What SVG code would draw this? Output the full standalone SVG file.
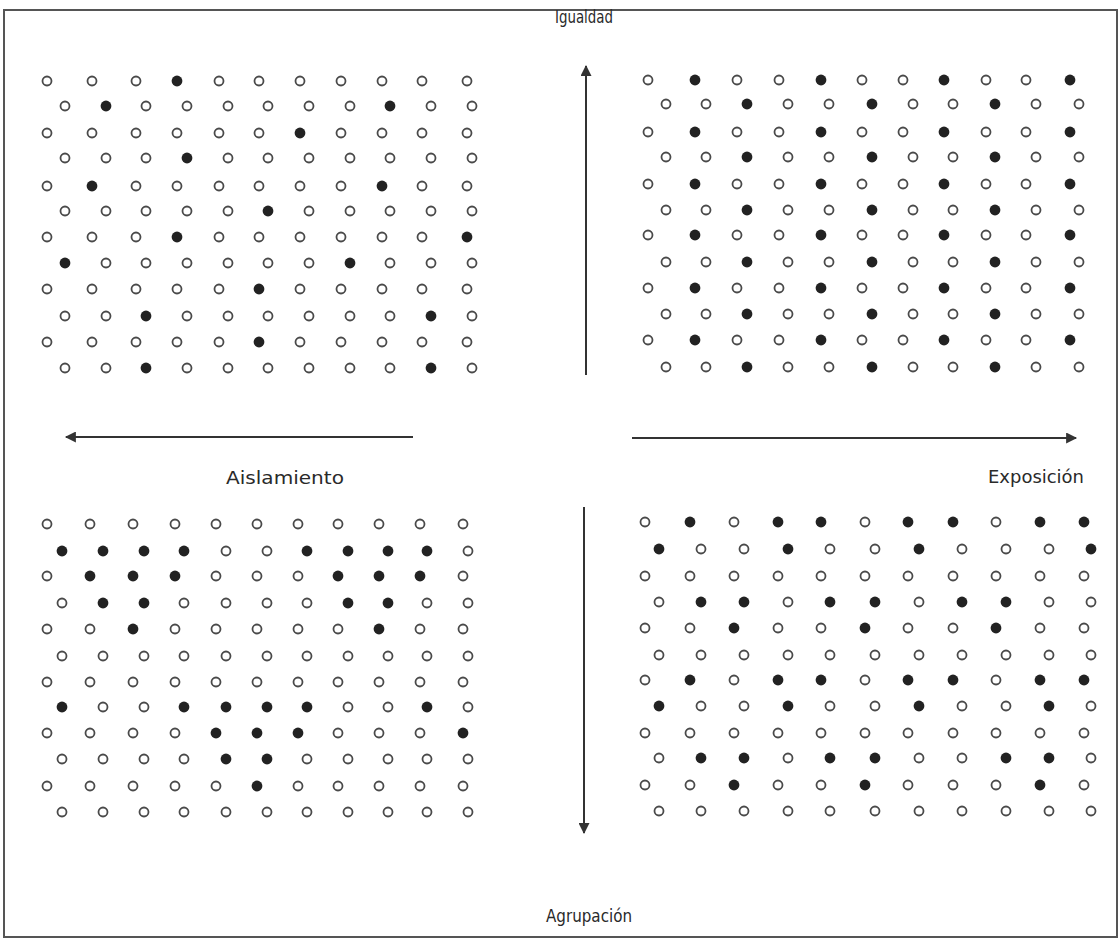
<svg xmlns="http://www.w3.org/2000/svg" xmlns:xlink="http://www.w3.org/1999/xlink" width="1120" height="939" viewBox="0 0 1120 939">
<style>
.lbl{font-family:"DejaVu Sans Condensed","Liberation Sans Narrow","Liberation Sans",sans-serif;font-size:18px;fill:#2a2a2a;}
.ax{stroke:#333;stroke-width:2;fill:none;}
.frame{fill:none;stroke:#555;stroke-width:2;}
</style>
<defs>
<circle id="o" r="4.5" fill="none" stroke="#4a4a4a" stroke-width="1.8"/>
<circle id="f" r="5.4" fill="#222"/>
<marker id="ah" viewBox="0 0 10 10" refX="9" refY="5" markerWidth="6" markerHeight="5.5" markerUnits="strokeWidth" orient="auto">
<path d="M0,0 L10,5 L0,10 z" fill="#333"/>
</marker>
</defs>
<rect class="frame" x="4" y="10" width="1113" height="927"/>

<g id="quadrant-igualdad-aislamiento">
<g transform="translate(0,81)"><use href="#o" x="47"/><use href="#o" x="92"/><use href="#o" x="136"/><use href="#f" x="177"/><use href="#o" x="219"/><use href="#o" x="259"/><use href="#o" x="300"/><use href="#o" x="341"/><use href="#o" x="382"/><use href="#o" x="422"/><use href="#o" x="467"/></g>
<g transform="translate(0,106)"><use href="#o" x="65"/><use href="#f" x="106"/><use href="#o" x="146"/><use href="#o" x="187"/><use href="#o" x="228"/><use href="#o" x="268"/><use href="#o" x="309"/><use href="#o" x="350"/><use href="#f" x="390"/><use href="#o" x="431"/><use href="#o" x="472"/></g>
<g transform="translate(0,133)"><use href="#o" x="47"/><use href="#o" x="92"/><use href="#o" x="136"/><use href="#o" x="177"/><use href="#o" x="219"/><use href="#o" x="259"/><use href="#f" x="300"/><use href="#o" x="341"/><use href="#o" x="382"/><use href="#o" x="422"/><use href="#o" x="467"/></g>
<g transform="translate(0,158)"><use href="#o" x="65"/><use href="#o" x="106"/><use href="#o" x="146"/><use href="#f" x="187"/><use href="#o" x="228"/><use href="#o" x="268"/><use href="#o" x="309"/><use href="#o" x="350"/><use href="#o" x="390"/><use href="#o" x="431"/><use href="#o" x="472"/></g>
<g transform="translate(0,186)"><use href="#o" x="47"/><use href="#f" x="92"/><use href="#o" x="136"/><use href="#o" x="177"/><use href="#o" x="219"/><use href="#o" x="259"/><use href="#o" x="300"/><use href="#o" x="341"/><use href="#f" x="382"/><use href="#o" x="422"/><use href="#o" x="467"/></g>
<g transform="translate(0,211)"><use href="#o" x="65"/><use href="#o" x="106"/><use href="#o" x="146"/><use href="#o" x="187"/><use href="#o" x="228"/><use href="#f" x="268"/><use href="#o" x="309"/><use href="#o" x="350"/><use href="#o" x="390"/><use href="#o" x="431"/><use href="#o" x="472"/></g>
<g transform="translate(0,237)"><use href="#o" x="47"/><use href="#o" x="92"/><use href="#o" x="136"/><use href="#f" x="177"/><use href="#o" x="219"/><use href="#o" x="259"/><use href="#o" x="300"/><use href="#o" x="341"/><use href="#o" x="382"/><use href="#o" x="422"/><use href="#f" x="467"/></g>
<g transform="translate(0,263)"><use href="#f" x="65"/><use href="#o" x="106"/><use href="#o" x="146"/><use href="#o" x="187"/><use href="#o" x="228"/><use href="#o" x="268"/><use href="#o" x="309"/><use href="#f" x="350"/><use href="#o" x="390"/><use href="#o" x="431"/><use href="#o" x="472"/></g>
<g transform="translate(0,289)"><use href="#o" x="47"/><use href="#o" x="92"/><use href="#o" x="136"/><use href="#o" x="177"/><use href="#o" x="219"/><use href="#f" x="259"/><use href="#o" x="300"/><use href="#o" x="341"/><use href="#o" x="382"/><use href="#o" x="422"/><use href="#o" x="467"/></g>
<g transform="translate(0,316)"><use href="#o" x="65"/><use href="#o" x="106"/><use href="#f" x="146"/><use href="#o" x="187"/><use href="#o" x="228"/><use href="#o" x="268"/><use href="#o" x="309"/><use href="#o" x="350"/><use href="#o" x="390"/><use href="#f" x="431"/><use href="#o" x="472"/></g>
<g transform="translate(0,342)"><use href="#o" x="47"/><use href="#o" x="92"/><use href="#o" x="136"/><use href="#o" x="177"/><use href="#o" x="219"/><use href="#f" x="259"/><use href="#o" x="300"/><use href="#o" x="341"/><use href="#o" x="382"/><use href="#o" x="422"/><use href="#o" x="467"/></g>
<g transform="translate(0,368)"><use href="#o" x="65"/><use href="#o" x="106"/><use href="#f" x="146"/><use href="#o" x="187"/><use href="#o" x="228"/><use href="#o" x="268"/><use href="#o" x="309"/><use href="#o" x="350"/><use href="#o" x="390"/><use href="#f" x="431"/><use href="#o" x="472"/></g>
</g>

<g id="quadrant-igualdad-exposicion">
<g transform="translate(0,80)"><use href="#o" x="648"/><use href="#f" x="695"/><use href="#o" x="737"/><use href="#o" x="779"/><use href="#f" x="821"/><use href="#o" x="862"/><use href="#o" x="903"/><use href="#f" x="944"/><use href="#o" x="986"/><use href="#o" x="1026"/><use href="#f" x="1070"/></g>
<g transform="translate(0,104)"><use href="#o" x="666"/><use href="#o" x="706"/><use href="#f" x="747"/><use href="#o" x="788"/><use href="#o" x="829"/><use href="#f" x="872"/><use href="#o" x="913"/><use href="#o" x="953"/><use href="#f" x="995"/><use href="#o" x="1036"/><use href="#o" x="1079"/></g>
<g transform="translate(0,132)"><use href="#o" x="648"/><use href="#f" x="695"/><use href="#o" x="737"/><use href="#o" x="779"/><use href="#f" x="821"/><use href="#o" x="862"/><use href="#o" x="903"/><use href="#f" x="944"/><use href="#o" x="986"/><use href="#o" x="1026"/><use href="#f" x="1070"/></g>
<g transform="translate(0,157)"><use href="#o" x="666"/><use href="#o" x="706"/><use href="#f" x="747"/><use href="#o" x="788"/><use href="#o" x="829"/><use href="#f" x="872"/><use href="#o" x="913"/><use href="#o" x="953"/><use href="#f" x="995"/><use href="#o" x="1036"/><use href="#o" x="1079"/></g>
<g transform="translate(0,184)"><use href="#o" x="648"/><use href="#f" x="695"/><use href="#o" x="737"/><use href="#o" x="779"/><use href="#f" x="821"/><use href="#o" x="862"/><use href="#o" x="903"/><use href="#f" x="944"/><use href="#o" x="986"/><use href="#o" x="1026"/><use href="#f" x="1070"/></g>
<g transform="translate(0,210)"><use href="#o" x="666"/><use href="#o" x="706"/><use href="#f" x="747"/><use href="#o" x="788"/><use href="#o" x="829"/><use href="#f" x="872"/><use href="#o" x="913"/><use href="#o" x="953"/><use href="#f" x="995"/><use href="#o" x="1036"/><use href="#o" x="1079"/></g>
<g transform="translate(0,235)"><use href="#o" x="648"/><use href="#f" x="695"/><use href="#o" x="737"/><use href="#o" x="779"/><use href="#f" x="821"/><use href="#o" x="862"/><use href="#o" x="903"/><use href="#f" x="944"/><use href="#o" x="986"/><use href="#o" x="1026"/><use href="#f" x="1070"/></g>
<g transform="translate(0,262)"><use href="#o" x="666"/><use href="#o" x="706"/><use href="#f" x="747"/><use href="#o" x="788"/><use href="#o" x="829"/><use href="#f" x="872"/><use href="#o" x="913"/><use href="#o" x="953"/><use href="#f" x="995"/><use href="#o" x="1036"/><use href="#o" x="1079"/></g>
<g transform="translate(0,288)"><use href="#o" x="648"/><use href="#f" x="695"/><use href="#o" x="737"/><use href="#o" x="779"/><use href="#f" x="821"/><use href="#o" x="862"/><use href="#o" x="903"/><use href="#f" x="944"/><use href="#o" x="986"/><use href="#o" x="1026"/><use href="#f" x="1070"/></g>
<g transform="translate(0,314)"><use href="#o" x="666"/><use href="#o" x="706"/><use href="#f" x="747"/><use href="#o" x="788"/><use href="#o" x="829"/><use href="#f" x="872"/><use href="#o" x="913"/><use href="#o" x="953"/><use href="#f" x="995"/><use href="#o" x="1036"/><use href="#o" x="1079"/></g>
<g transform="translate(0,340)"><use href="#o" x="648"/><use href="#f" x="695"/><use href="#o" x="737"/><use href="#o" x="779"/><use href="#f" x="821"/><use href="#o" x="862"/><use href="#o" x="903"/><use href="#f" x="944"/><use href="#o" x="986"/><use href="#o" x="1026"/><use href="#f" x="1070"/></g>
<g transform="translate(0,367)"><use href="#o" x="666"/><use href="#o" x="706"/><use href="#f" x="747"/><use href="#o" x="788"/><use href="#o" x="829"/><use href="#f" x="872"/><use href="#o" x="913"/><use href="#o" x="953"/><use href="#f" x="995"/><use href="#o" x="1036"/><use href="#o" x="1079"/></g>
</g>

<g id="quadrant-agrupacion-aislamiento">
<g transform="translate(0,524)"><use href="#o" x="47"/><use href="#o" x="90"/><use href="#o" x="133"/><use href="#o" x="175"/><use href="#o" x="216"/><use href="#o" x="257"/><use href="#o" x="298"/><use href="#o" x="338"/><use href="#o" x="379"/><use href="#o" x="420"/><use href="#o" x="463"/></g>
<g transform="translate(0,551)"><use href="#f" x="62"/><use href="#f" x="103"/><use href="#f" x="144"/><use href="#f" x="184"/><use href="#o" x="226"/><use href="#o" x="267"/><use href="#f" x="307"/><use href="#f" x="348"/><use href="#f" x="388"/><use href="#f" x="427"/><use href="#o" x="468"/></g>
<g transform="translate(0,576)"><use href="#o" x="47"/><use href="#f" x="90"/><use href="#f" x="133"/><use href="#f" x="175"/><use href="#o" x="216"/><use href="#o" x="257"/><use href="#o" x="298"/><use href="#f" x="338"/><use href="#f" x="379"/><use href="#f" x="420"/><use href="#o" x="463"/></g>
<g transform="translate(0,603)"><use href="#o" x="62"/><use href="#f" x="103"/><use href="#f" x="144"/><use href="#o" x="184"/><use href="#o" x="226"/><use href="#o" x="267"/><use href="#o" x="307"/><use href="#f" x="348"/><use href="#f" x="388"/><use href="#o" x="427"/><use href="#o" x="468"/></g>
<g transform="translate(0,629)"><use href="#o" x="47"/><use href="#o" x="90"/><use href="#f" x="133"/><use href="#o" x="175"/><use href="#o" x="216"/><use href="#o" x="257"/><use href="#o" x="298"/><use href="#o" x="338"/><use href="#f" x="379"/><use href="#o" x="420"/><use href="#o" x="463"/></g>
<g transform="translate(0,656)"><use href="#o" x="62"/><use href="#o" x="103"/><use href="#o" x="144"/><use href="#o" x="184"/><use href="#o" x="226"/><use href="#o" x="267"/><use href="#o" x="307"/><use href="#o" x="348"/><use href="#o" x="388"/><use href="#o" x="427"/><use href="#o" x="468"/></g>
<g transform="translate(0,682)"><use href="#o" x="47"/><use href="#o" x="90"/><use href="#o" x="133"/><use href="#o" x="175"/><use href="#o" x="216"/><use href="#o" x="257"/><use href="#o" x="298"/><use href="#o" x="338"/><use href="#o" x="379"/><use href="#o" x="420"/><use href="#o" x="463"/></g>
<g transform="translate(0,707)"><use href="#f" x="62"/><use href="#o" x="103"/><use href="#o" x="144"/><use href="#f" x="184"/><use href="#f" x="226"/><use href="#f" x="267"/><use href="#f" x="307"/><use href="#o" x="348"/><use href="#o" x="388"/><use href="#f" x="427"/><use href="#o" x="468"/></g>
<g transform="translate(0,733)"><use href="#o" x="47"/><use href="#o" x="90"/><use href="#o" x="133"/><use href="#o" x="175"/><use href="#f" x="216"/><use href="#f" x="257"/><use href="#f" x="298"/><use href="#o" x="338"/><use href="#o" x="379"/><use href="#o" x="420"/><use href="#f" x="463"/></g>
<g transform="translate(0,759)"><use href="#o" x="62"/><use href="#o" x="103"/><use href="#o" x="144"/><use href="#o" x="184"/><use href="#f" x="226"/><use href="#f" x="267"/><use href="#o" x="307"/><use href="#o" x="348"/><use href="#o" x="388"/><use href="#o" x="427"/><use href="#o" x="468"/></g>
<g transform="translate(0,786)"><use href="#o" x="47"/><use href="#o" x="90"/><use href="#o" x="133"/><use href="#o" x="175"/><use href="#o" x="216"/><use href="#f" x="257"/><use href="#o" x="298"/><use href="#o" x="338"/><use href="#o" x="379"/><use href="#o" x="420"/><use href="#o" x="463"/></g>
<g transform="translate(0,812)"><use href="#o" x="62"/><use href="#o" x="103"/><use href="#o" x="144"/><use href="#o" x="184"/><use href="#o" x="226"/><use href="#o" x="267"/><use href="#o" x="307"/><use href="#o" x="348"/><use href="#o" x="388"/><use href="#o" x="427"/><use href="#o" x="468"/></g>
</g>

<g id="quadrant-agrupacion-exposicion">
<g transform="translate(0,522)"><use href="#o" x="645"/><use href="#f" x="690"/><use href="#o" x="734"/><use href="#f" x="778"/><use href="#f" x="821"/><use href="#o" x="865"/><use href="#f" x="908"/><use href="#f" x="953"/><use href="#o" x="996"/><use href="#f" x="1040"/><use href="#f" x="1084"/></g>
<g transform="translate(0,549)"><use href="#f" x="659"/><use href="#o" x="701"/><use href="#o" x="744"/><use href="#f" x="788"/><use href="#o" x="830"/><use href="#o" x="875"/><use href="#f" x="919"/><use href="#o" x="962"/><use href="#o" x="1006"/><use href="#o" x="1049"/><use href="#f" x="1091"/></g>
<g transform="translate(0,576)"><use href="#o" x="645"/><use href="#o" x="690"/><use href="#o" x="734"/><use href="#o" x="778"/><use href="#o" x="821"/><use href="#o" x="865"/><use href="#o" x="908"/><use href="#o" x="953"/><use href="#o" x="996"/><use href="#o" x="1040"/><use href="#o" x="1084"/></g>
<g transform="translate(0,602)"><use href="#o" x="659"/><use href="#f" x="701"/><use href="#f" x="744"/><use href="#o" x="788"/><use href="#f" x="830"/><use href="#f" x="875"/><use href="#o" x="919"/><use href="#f" x="962"/><use href="#f" x="1006"/><use href="#o" x="1049"/><use href="#o" x="1091"/></g>
<g transform="translate(0,628)"><use href="#o" x="645"/><use href="#o" x="690"/><use href="#f" x="734"/><use href="#o" x="778"/><use href="#o" x="821"/><use href="#f" x="865"/><use href="#o" x="908"/><use href="#o" x="953"/><use href="#f" x="996"/><use href="#o" x="1040"/><use href="#o" x="1084"/></g>
<g transform="translate(0,655)"><use href="#o" x="659"/><use href="#o" x="701"/><use href="#o" x="744"/><use href="#o" x="788"/><use href="#o" x="830"/><use href="#o" x="875"/><use href="#o" x="919"/><use href="#o" x="962"/><use href="#o" x="1006"/><use href="#o" x="1049"/><use href="#o" x="1091"/></g>
<g transform="translate(0,680)"><use href="#o" x="645"/><use href="#f" x="690"/><use href="#o" x="734"/><use href="#f" x="778"/><use href="#f" x="821"/><use href="#o" x="865"/><use href="#f" x="908"/><use href="#f" x="953"/><use href="#o" x="996"/><use href="#f" x="1040"/><use href="#f" x="1084"/></g>
<g transform="translate(0,706)"><use href="#f" x="659"/><use href="#o" x="701"/><use href="#o" x="744"/><use href="#f" x="788"/><use href="#o" x="830"/><use href="#o" x="875"/><use href="#f" x="919"/><use href="#o" x="962"/><use href="#o" x="1006"/><use href="#f" x="1049"/><use href="#o" x="1091"/></g>
<g transform="translate(0,733)"><use href="#o" x="645"/><use href="#o" x="690"/><use href="#o" x="734"/><use href="#o" x="778"/><use href="#o" x="821"/><use href="#o" x="865"/><use href="#o" x="908"/><use href="#o" x="953"/><use href="#o" x="996"/><use href="#o" x="1040"/><use href="#o" x="1084"/></g>
<g transform="translate(0,758)"><use href="#o" x="659"/><use href="#f" x="701"/><use href="#f" x="744"/><use href="#o" x="788"/><use href="#f" x="830"/><use href="#f" x="875"/><use href="#o" x="919"/><use href="#o" x="962"/><use href="#f" x="1006"/><use href="#f" x="1049"/><use href="#o" x="1091"/></g>
<g transform="translate(0,785)"><use href="#o" x="645"/><use href="#o" x="690"/><use href="#f" x="734"/><use href="#o" x="778"/><use href="#o" x="821"/><use href="#f" x="865"/><use href="#o" x="908"/><use href="#o" x="953"/><use href="#o" x="996"/><use href="#f" x="1040"/><use href="#o" x="1084"/></g>
<g transform="translate(0,811)"><use href="#o" x="659"/><use href="#o" x="701"/><use href="#o" x="744"/><use href="#o" x="788"/><use href="#o" x="830"/><use href="#o" x="875"/><use href="#o" x="919"/><use href="#o" x="962"/><use href="#o" x="1006"/><use href="#o" x="1049"/><use href="#o" x="1091"/></g>
</g>

<g id="connectors">
<line class="ax" x1="586" y1="375" x2="586" y2="66" marker-end="url(#ah)"/>
<line class="ax" x1="584" y1="507" x2="584" y2="833" marker-end="url(#ah)"/>
<line class="ax" x1="413" y1="437" x2="66" y2="437" marker-end="url(#ah)"/>
<line class="ax" x1="632" y1="438" x2="1076" y2="438" marker-end="url(#ah)"/>
</g>

<g id="labels">
<text class="lbl" x="584" y="23" text-anchor="middle" textLength="58" lengthAdjust="spacingAndGlyphs">Igualdad</text>
<text class="lbl" x="285" y="484" text-anchor="middle" textLength="118" lengthAdjust="spacingAndGlyphs">Aislamiento</text>
<text class="lbl" x="1036" y="483" text-anchor="middle" textLength="96" lengthAdjust="spacingAndGlyphs">Exposición</text>
<text class="lbl" x="589" y="922" text-anchor="middle" textLength="86" lengthAdjust="spacingAndGlyphs">Agrupación</text>
</g>
</svg>
